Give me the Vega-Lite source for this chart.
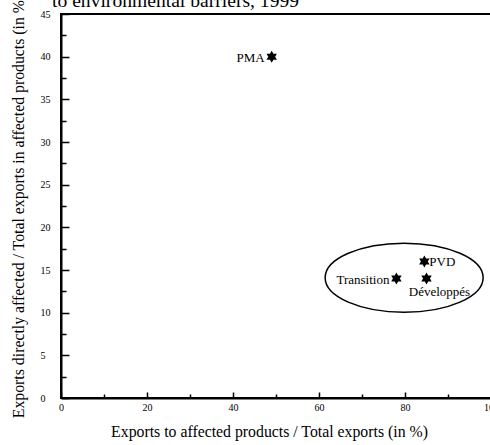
{
  "$schema": "https://vega.github.io/schema/vega-lite/v6.json",
  "width": 430,
  "height": 384,
  "autosize": {"type": "none"},
  "padding": {"left": 61, "top": 14, "right": 0, "bottom": 47},
  "background": "white",
  "title": {
    "text": "to environmental barriers, 1999",
    "anchor": "start",
    "dx": 42,
    "dy": 35,
    "offset": 2,
    "baseline": "alphabetic",
    "font": "Liberation Serif, Times New Roman, serif",
    "fontSize": 19.6,
    "fontWeight": "normal",
    "color": "black"
  },
  "config": {
    "view": {"stroke": "black", "strokeWidth": 2},
    "axis": {
      "grid": false,
      "domainColor": "black",
      "domainWidth": 2,
      "tickColor": "black",
      "tickWidth": 1.5,
      "labelColor": "black",
      "labelFont": "Liberation Serif, Times New Roman, serif",
      "labelFontSize": 10,
      "labelFlush": false,
      "labelBound": false,
      "titleColor": "black",
      "titleFont": "Liberation Serif, Times New Roman, serif",
      "titleFontSize": 15.8,
      "titleFontWeight": "normal"
    }
  },
  "datasets": {
    "points": [
      {"group": "PMA", "x": 49, "y": 40},
      {"group": "PVD", "x": 84.5, "y": 16},
      {"group": "Transition", "x": 78, "y": 14},
      {"group": "Développés", "x": 85, "y": 14}
    ],
    "ellipse": [{"x": 79.8, "y": 14.1}]
  },
  "resolve": {"axis": {"x": "independent", "y": "independent"}},
  "layer": [
    {
      "data": {"name": "ellipse"},
      "mark": {
        "type": "point",
        "shape": "M-1,0A1,0.437,0,1,1,1,0A1,0.437,0,1,1,-1,0Z",
        "size": 24964,
        "filled": false,
        "stroke": "black",
        "strokeWidth": 1.5,
        "opacity": 1
      },
      "encoding": {
        "x": {
          "field": "x", "type": "quantitative",
          "scale": {"domain": [0, 100], "nice": false, "zero": false},
          "axis": {
            "orient": "bottom",
            "values": [0, 20, 40, 60, 80, 100],
            "tickSize": -6,
            "labelPadding": 10,
            "title": "Exports to affected products / Total exports (in %)",
            "titleX": 208,
            "titlePadding": 12
          }
        },
        "y": {
          "field": "y", "type": "quantitative",
          "scale": {"domain": [0, 45], "nice": false, "zero": false},
          "axis": {
            "orient": "left",
            "values": [0, 5, 10, 15, 20, 25, 30, 35, 40, 45],
            "tickSize": -8,
            "labelAlign": "left",
            "labelPadding": 29,
            "title": "Exports directly affected / Total exports in affected products (in %)",
            "titlePadding": 14
          }
        }
      }
    },
    {
      "data": {"name": "points"},
      "mark": {
        "type": "point",
        "shape": "M0,-1L0.866,0.5L-0.866,0.5Z M0,1L-0.866,-0.5L0.866,-0.5Z",
        "size": 144,
        "filled": true,
        "color": "black",
        "opacity": 1
      },
      "encoding": {
        "x": {
          "field": "x", "type": "quantitative",
          "scale": {"domain": [0, 100], "nice": false, "zero": false},
          "axis": {
            "orient": "bottom",
            "values": [10, 30, 50, 70, 90],
            "tickSize": -4,
            "labels": false,
            "domain": false,
            "title": null
          }
        },
        "y": {
          "field": "y", "type": "quantitative",
          "scale": {"domain": [0, 45], "nice": false, "zero": false},
          "axis": {
            "orient": "left",
            "values": [2.5, 7.5, 12.5, 17.5, 22.5, 27.5, 32.5, 37.5, 42.5],
            "tickSize": -5,
            "labels": false,
            "domain": false,
            "title": null
          }
        }
      }
    },
    {
      "data": {"name": "points"},
      "transform": [{"filter": "datum.group === 'PMA' || datum.group === 'Transition'"}],
      "mark": {"type": "text", "align": "right", "baseline": "middle", "dx": -7, "dy": 1, "font": "Liberation Serif, Times New Roman, serif", "fontSize": 13, "color": "black"},
      "encoding": {
        "x": {"field": "x", "type": "quantitative", "axis": null},
        "y": {"field": "y", "type": "quantitative", "axis": null},
        "text": {"field": "group"}
      }
    },
    {
      "data": {"name": "points"},
      "transform": [{"filter": "datum.group === 'PVD'"}],
      "mark": {"type": "text", "align": "left", "baseline": "middle", "dx": 5, "dy": 1, "font": "Liberation Serif, Times New Roman, serif", "fontSize": 13, "color": "black"},
      "encoding": {
        "x": {"field": "x", "type": "quantitative", "axis": null},
        "y": {"field": "y", "type": "quantitative", "axis": null},
        "text": {"field": "group"}
      }
    },
    {
      "data": {"name": "points"},
      "transform": [{"filter": "datum.group === 'Développés'"}],
      "mark": {"type": "text", "align": "center", "baseline": "top", "dx": 13, "dy": 7, "font": "Liberation Serif, Times New Roman, serif", "fontSize": 13, "color": "black"},
      "encoding": {
        "x": {"field": "x", "type": "quantitative", "axis": null},
        "y": {"field": "y", "type": "quantitative", "axis": null},
        "text": {"field": "group"}
      }
    }
  ]
}
